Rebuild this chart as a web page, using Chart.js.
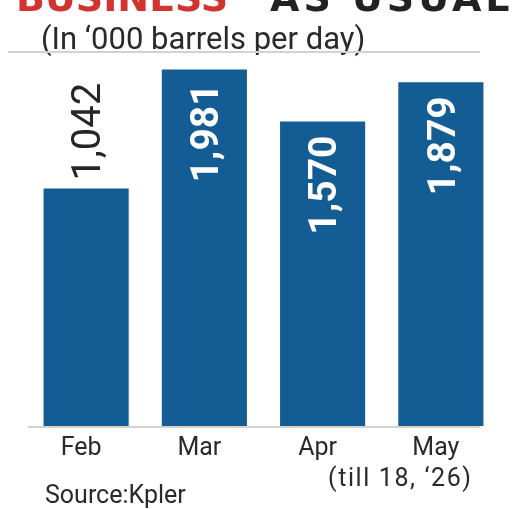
<!DOCTYPE html>
<html>
<head>
<meta charset="utf-8">
<script src="https://cdn.jsdelivr.net/npm/chart.js@4"></script>
<style>
  html, body { margin: 0; padding: 0; background: #fff; }
  #wrap { position: relative; width: 528px; height: 509px; overflow: hidden; font-family: Roboto, sans-serif; color: #2a2a2a; }
  #chart { position: absolute; left: 0; top: 0; }
  .title { position: absolute; top: -24px; font-family: "DejaVu Sans", sans-serif; font-weight: bold; font-size: 38px; white-space: nowrap; }
  .rule { position: absolute; height: 2px; background: #d2d2d2; }
  .txt { position: absolute; white-space: nowrap; }
</style>
</head>
<body>
<div id="wrap">
  <canvas id="chart" width="528" height="509"></canvas>
  <div class="title" style="left:16px;color:#d3332e;">BUSINESS</div>
  <div class="title" style="left:270px;color:#222;letter-spacing:4px;">AS USUAL</div>
  <div class="txt" style="left:41px;top:20px;font-size:31px;">(In ‘000 barrels per day)</div>
  <div class="rule" style="left:8px;top:51px;width:472px;"></div>
  <div class="rule" style="left:28px;top:426px;width:452px;"></div>
  <div class="txt" style="left:328px;top:463px;font-size:25px;letter-spacing:1.6px;">(till 18, ‘26)</div>
  <div class="txt" style="left:45px;top:480px;font-size:25px;">Source:Kpler</div>
</div>
<script>
// Monthly volumes, '000 barrels per day
const months = ['Feb', 'Mar', 'Apr', 'May'];
const volumes = [1042, 1981, 1570, 1879];
const axisMin = -830;
const axisMax = 2000;

const barColor = '#135d94';

// draws the rotated value labels: lowest bar gets its label above, the rest inside
const valueLabels = {
  id: 'valueLabels',
  afterDatasetsDraw(chart) {
    const ctx = chart.ctx;
    const meta = chart.getDatasetMeta(0);
    const lowest = Math.min(...volumes);
    meta.data.forEach((bar, i) => {
      const v = volumes[i];
      const inside = v !== lowest;
      const size = inside ? 39 : 40;
      const capH = size * 0.711;
      ctx.save();
      ctx.font = (inside ? 'bold ' : '') + size + 'px Roboto';
      ctx.fillStyle = inside ? '#ffffff' : '#262626';
      ctx.textBaseline = 'alphabetic';
      const y = inside ? bar.y + 14 : bar.y - 8;
      ctx.translate(bar.x + capH / 2, y);
      ctx.rotate(-Math.PI / 2);
      ctx.textAlign = inside ? 'right' : 'left';
      ctx.fillText(v.toLocaleString('en-US'), 0, 0);
      ctx.restore();
    });
  }
};

new Chart(document.getElementById('chart'), {
  type: 'bar',
  data: {
    labels: months,
    datasets: [{
      data: volumes,
      base: axisMin,
      backgroundColor: barColor,
      borderWidth: 0,
      barPercentage: 0.8,
      categoryPercentage: 0.9
    }]
  },
  options: {
    responsive: false,
    animation: false,
    layout: { padding: { left: 27, right: 28, top: 67, bottom: 37 } },
    scales: {
      x: {
        grid: { display: false, drawTicks: false },
        border: { display: false },
        ticks: {
          color: '#2a2a2a',
          font: { family: 'Roboto', size: 25 },
          padding: 8,
          labelOffset: -5
        }
      },
      y: {
        display: false,
        min: axisMin,
        max: axisMax
      }
    },
    plugins: {
      legend: { display: false },
      tooltip: { enabled: false }
    }
  },
  plugins: [valueLabels]
});
</script>
</body>
</html>
